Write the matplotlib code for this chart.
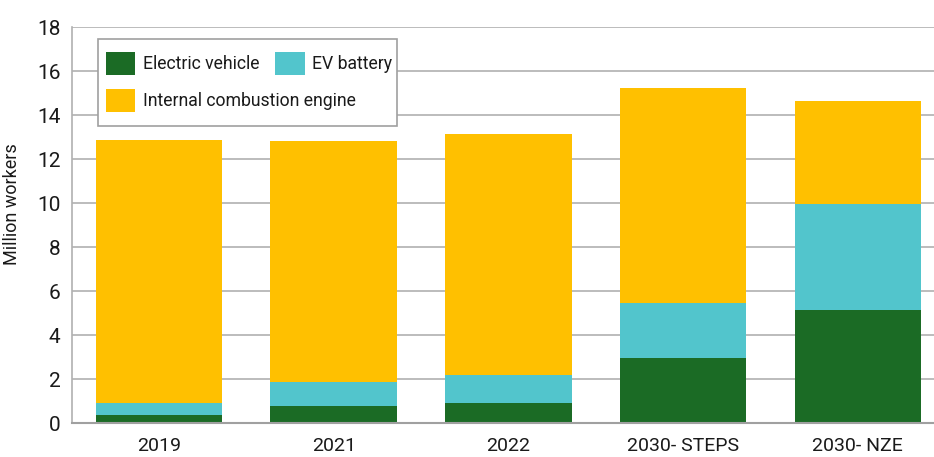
import numpy as np
import matplotlib
matplotlib.use("Agg")
import matplotlib.pyplot as plt
from matplotlib.patches import Patch, Rectangle

plt.rcParams['font.family'] = ['Roboto', 'DejaVu Sans']

# data (million workers)
categories = ['2019', '2021', '2022', '2030- STEPS', '2030- NZE']
electric_vehicle = [0.38, 0.80, 0.93, 2.96, 5.16]
ev_battery = [0.53, 1.08, 1.28, 2.51, 4.82]
ice = [11.98, 10.97, 10.93, 9.76, 4.68]

c_ev = '#1b6b25'
c_bat = '#52c5cc'
c_ice = '#ffc000'
txt = '#1a1a1a'

fig = plt.figure(figsize=(9.34, 4.57), dpi=100)
ax = fig.add_axes([71.7 / 934, 1 - 423.3 / 457, 1 - 71.7 / 934, 396 / 457])

x = np.arange(len(categories))
w = 0.725
ev = np.array(electric_vehicle)
bat = np.array(ev_battery)
ice_v = np.array(ice)
ax.bar(x, ev, w, color=c_ev, zorder=3)
ax.bar(x, bat, w, bottom=ev, color=c_bat, zorder=3)
ax.bar(x, ice_v, w, bottom=ev + bat, color=c_ice, zorder=3)

ax.set_ylim(0, 18)
ax.set_xlim(-0.5, (934 - 71.7) / 174.7 - 0.5)
ax.set_yticks(range(0, 19, 2))
ax.set_xticks(x)
ax.set_xticklabels(categories)
ax.tick_params(axis='both', length=0, colors=txt)
ax.tick_params(axis='y', pad=8, labelsize=15)
ax.tick_params(axis='x', pad=10, labelsize=14)
ax.yaxis.grid(True, color='#b0b0b0', linewidth=1.2, zorder=0)
ax.set_axisbelow(True)
for s in ['top', 'right']:
    ax.spines[s].set_visible(False)
ax.spines['left'].set_color('#b0b0b0')
ax.spines['left'].set_linewidth(1.2)
ax.spines['bottom'].set_color('#a0a0a0')
ax.spines['bottom'].set_linewidth(1.5)
ax.spines['bottom'].set_zorder(4)

ax.set_ylabel('Million workers', fontsize=13, color=txt)
ax.yaxis.set_label_coords(-51 / 862, 0.554)

# legend: two frameless rows inside a hand-drawn box
h_ev = Patch(facecolor=c_ev, label='Electric vehicle')
h_bat = Patch(facecolor=c_bat, label='EV battery')
h_ice = Patch(facecolor=c_ice, label='Internal combustion engine')
kw = dict(frameon=False, fontsize=12.7, handlelength=1.65, handleheight=1.65,
          handletextpad=0.45, columnspacing=0.9, borderaxespad=0, borderpad=0,
          labelcolor=txt)
leg1 = fig.legend(handles=[h_ev, h_bat], ncol=2, loc='upper left',
                  bbox_to_anchor=(106 / 934, 1 - 52 / 457), **kw)
leg2 = fig.legend(handles=[h_ice], loc='upper left',
                  bbox_to_anchor=(106 / 934, 1 - 89 / 457), **kw)
fig.patches.append(Rectangle((98 / 934, 1 - 126 / 457), 299 / 934, 87 / 457,
                             transform=fig.transFigure, facecolor='white',
                             edgecolor='#a0a0a0', linewidth=1.2, zorder=1))

fig.savefig('out.png', dpi=100)
